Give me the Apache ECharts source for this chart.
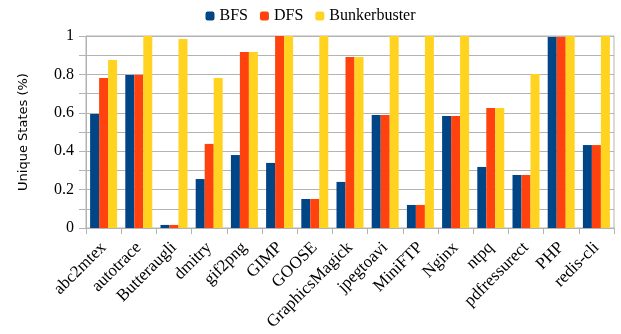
<!DOCTYPE html>
<html>
<head>
<meta charset="utf-8">
<script src="https://cdn.jsdelivr.net/npm/echarts@6/dist/echarts.min.js"></script>
<style>
html,body{margin:0;padding:0;background:#fff;}
#main{width:621px;height:334px;}
</style>
</head>
<body>
<div id="main"></div>
<script>
var categories = ['abc2mtex','autotrace','Butteraugli','dmitry','gif2png','GIMP','GOOSE','GraphicsMagick','jpegtoavi','MiniFTP','Nginx','ntpq','pdfressurect','PHP','redis-cli'];
var bfs = [0.594,0.797,0.016,0.255,0.380,0.339,0.151,0.240,0.589,0.120,0.583,0.318,0.276,0.995,0.432];
var dfs = [0.781,0.797,0.016,0.438,0.917,1.000,0.151,0.890,0.589,0.120,0.583,0.625,0.276,0.995,0.432];
var bunker = [0.875,1.000,0.984,0.781,0.917,1.000,1.000,0.890,1.000,1.000,1.000,0.625,0.802,1.000,1.000];
var yLabels = ['0','0.2','0.4','0.6','0.8','1'];

var serif = '"Liberation Serif", "DejaVu Serif", serif';
var grey = '#b3b3b3';

var chart = echarts.init(document.getElementById('main'));
chart.setOption({
	animation: false,
	legend: {
		top: 3,
		left: 'center',
		itemWidth: 9,
		itemHeight: 9,
		itemGap: 12,
		textStyle: {fontFamily: serif, fontSize: 16, color: '#000'},
		data: ['BFS','DFS','Bunkerbuster']
	},
	grid: {left: 86, right: 7, top: 36, bottom: 106, show: true, borderColor: grey, borderWidth: 1},
	xAxis: {
		type: 'category',
		data: categories,
		axisLine: {lineStyle: {color: grey}},
		axisTick: {show: true, length: 6, lineStyle: {color: grey}},
		axisLabel: {rotate: 45, interval: 0, fontFamily: serif, fontSize: 17, color: '#000', margin: 17}
	},
	yAxis: {
		type: 'value',
		min: 0,
		max: 1,
		interval: 0.1,
		name: 'Unique States (%)',
		nameLocation: 'middle',
		nameGap: 56,
		nameTextStyle: {fontFamily: '"DejaVu Sans", sans-serif', fontSize: 13, color: '#000'},
		axisLine: {show: true, lineStyle: {color: grey}},
		axisTick: {show: true, length: 7, lineStyle: {color: grey}},
		splitLine: {lineStyle: {color: grey}},
		axisLabel: {
			fontFamily: serif, fontSize: 16, color: '#000', margin: 12,
			formatter: function(v){
				var k = Math.round(v*10);
				return (k % 2 === 0) ? yLabels[k/2] : '';
			}
		}
	},
	series: [
		{name: 'BFS', type: 'bar', data: bfs, barWidth: 9, barGap: '0%', itemStyle: {color: '#004586'}},
		{name: 'DFS', type: 'bar', data: dfs, barWidth: 9, barGap: '0%', itemStyle: {color: '#ff420e'}},
		{name: 'Bunkerbuster', type: 'bar', data: bunker, barWidth: 9, barGap: '0%', itemStyle: {color: '#ffd320'}}
	]
});
</script>
</body>
</html>
